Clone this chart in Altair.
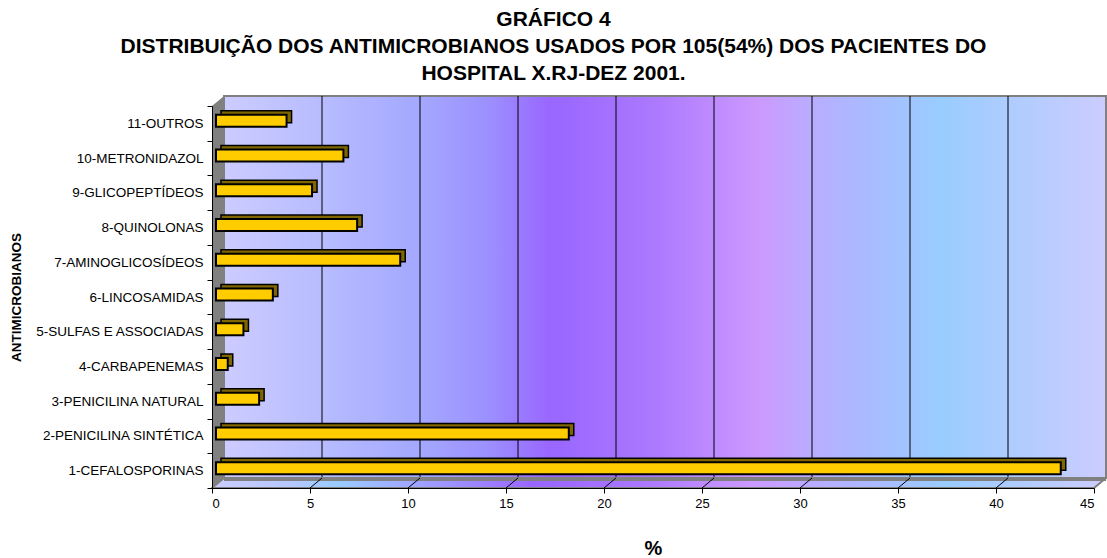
import altair as alt
import pandas as pd

# Antimicrobial classes, listed top to bottom
categories = [
    "11-OUTROS",
    "10-METRONIDAZOL",
    "9-GLICOPEPTÍDEOS",
    "8-QUINOLONAS",
    "7-AMINOGLICOSÍDEOS",
    "6-LINCOSAMIDAS",
    "5-SULFAS E ASSOCIADAS",
    "4-CARBAPENEMAS",
    "3-PENICILINA NATURAL",
    "2-PENICILINA SINTÉTICA",
    "1-CEFALOSPORINAS",
]
percent = [3.6, 6.5, 4.9, 7.2, 9.4, 2.9, 1.4, 0.6, 2.2, 18.0, 43.1]

x_ticks = [0, 5, 10, 15, 20, 25, 30, 35, 40, 45]
inner_ticks = [5, 10, 15, 20, 25, 30, 35, 40]

title_lines = [
    "GRÁFICO 4",
    "DISTRIBUIÇÃO DOS ANTIMICROBIANOS USADOS POR 105(54%) DOS PACIENTES DO",
    "HOSPITAL X.RJ-DEZ 2001.",
]

FONT = "Liberation Sans"
W, H = 882, 382          # plot area
DX, DY = 12, 10          # depth of the 3-D box, in pixels

bars = pd.DataFrame({"classe": categories, "pct": percent})
ticks = pd.DataFrame({"v": inner_ticks})
one = pd.DataFrame({"k": [0]})

# side wall and floor outlines of the 3-D box (pixel space)
side_wall = pd.DataFrame({"px": [0, DX], "top": [0, -DY], "bot": [H, H - DY]})
floor = pd.DataFrame({
    "px": [0, DX, W, W + DX],
    "top": [H, H - DY, H - DY, H - DY],
    "bot": [H, H, H, H - DY],
})

x_scale = alt.Scale(domain=[0, 45], nice=False, zero=True)
y_scale = alt.Scale(paddingInner=0, paddingOuter=0)

x_axis = alt.Axis(
    values=x_ticks, title="%",
    titleFont=FONT, titleFontSize=20, titleFontWeight="bold", titleColor="#000000",
    titlePadding=28,
    labelFont=FONT, labelFontSize=13, labelColor="#000000", labelPadding=4,
    tickSize=5, tickColor="#000000", domainColor="#000000", domainWidth=1,
    grid=False, zindex=1,
)
y_axis = alt.Axis(
    title="ANTIMICROBIANOS",
    titleFont=FONT, titleFontSize=13.5, titleFontWeight="bold", titleColor="#000000",
    titleAngle=270, titleX=-196, titleY=H / 2, titleAlign="center", titleBaseline="middle",
    labelFont=FONT, labelFontSize=13.5, labelColor="#000000", labelPadding=4,
    labelLimit=300,
    tickBand="extent", tickSize=5, tickColor="#000000",
    domainColor="#000000", domainWidth=1, grid=False, zindex=1,
)


def grad(stops):
    return alt.LinearGradient(
        gradient="linear",
        stops=[alt.GradientStop(offset=o, color=c) for o, c in stops],
        x1=0, x2=1, y1=0, y2=0,
    )


wall_fill = grad([
    (0.0, "#CCCCFF"), (0.11, "#B8BCFF"), (0.22, "#A4A8FF"), (0.30, "#9C90FF"),
    (0.37, "#9966FF"), (0.48, "#AA77FF"), (0.607, "#CC99FF"), (0.667, "#B8ADFF"),
    (0.81, "#99CCFF"), (1.0, "#CCCCFF"),
])
floor_fill = grad([
    (0.0, "#CCCCFF"), (0.09, "#B4C8FF"), (0.14, "#99CCFF"), (0.22, "#A0A8FF"),
    (0.36, "#9966FF"), (0.48, "#AA77FF"), (0.6, "#CC99FF"), (0.68, "#B8ADFF"),
    (0.82, "#99CCFF"), (1.0, "#CCCCFF"),
])

back_wall = alt.Chart(one).mark_rect(
    fill=wall_fill, stroke="#808080", strokeWidth=2
).encode(
    x=alt.value(DX), x2=alt.value(W + DX), y=alt.value(-DY), y2=alt.value(H - DY)
)

grid = alt.Chart(ticks).mark_rule(color="#000000", strokeWidth=1, xOffset=DX).encode(
    x=alt.X("v:Q", scale=x_scale, axis=x_axis),
    y=alt.value(-DY), y2=alt.value(H - DY),
)

left_wall = alt.Chart(side_wall).mark_area(color="#808080", orient="vertical").encode(
    x=alt.X("px:Q", scale=None),
    y=alt.Y("top:Q", scale=None),
    y2="bot:Q",
)

floor_area = alt.Chart(floor).mark_area(
    fill=floor_fill, stroke="#808080", strokeWidth=2, orient="vertical"
).encode(
    x=alt.X("px:Q", scale=None),
    y=alt.Y("top:Q", scale=None),
    y2="bot:Q",
)

floor_edge = alt.Chart(one).mark_rule(color="#808080", strokeWidth=4).encode(
    x=alt.value(DX), x2=alt.value(W + DX), y=alt.value(H - DY + 1)
)

floor_lines = alt.Chart(ticks).mark_rule(color="#000000", strokeWidth=1, x2Offset=DX).encode(
    x=alt.X("v:Q", scale=x_scale, axis=x_axis),
    x2="v:Q",
    y=alt.value(H), y2=alt.value(H - DY),
)

bar_back = alt.Chart(bars).mark_bar(
    color="#806600", stroke="#000000", strokeWidth=1.5, size=12,
    xOffset=9, x2Offset=9, yOffset=-6.5,
).encode(
    x=alt.X("pct:Q", scale=x_scale, axis=x_axis),
    y=alt.Y("classe:N", sort=categories, scale=y_scale, axis=y_axis),
)

bar_front = alt.Chart(bars).mark_bar(
    color="#FFCC00", stroke="#000000", strokeWidth=2, size=12,
    xOffset=4, x2Offset=4, yOffset=-2.5,
).encode(
    x=alt.X("pct:Q", scale=x_scale, axis=x_axis),
    y=alt.Y("classe:N", sort=categories, scale=y_scale, axis=y_axis),
)

chart = alt.layer(
    back_wall, grid, left_wall, floor_area, floor_edge, floor_lines, bar_back, bar_front
).properties(
    width=W,
    height=H,
    autosize=alt.AutoSizeParams(type="none"),
    padding={"left": 212, "top": 106, "right": 13, "bottom": 70},
    title=alt.Title(
        text=title_lines,
        font=FONT, fontSize=21, fontWeight="bold", color="#000000",
        lineHeight=27, anchor="middle", frame="group", dx=-99.5, offset=11,
    ),
).configure_view(stroke=None).configure(background="#FFFFFF")

chart.save("out.html", embed_options={"renderer": "svg", "actions": False})
